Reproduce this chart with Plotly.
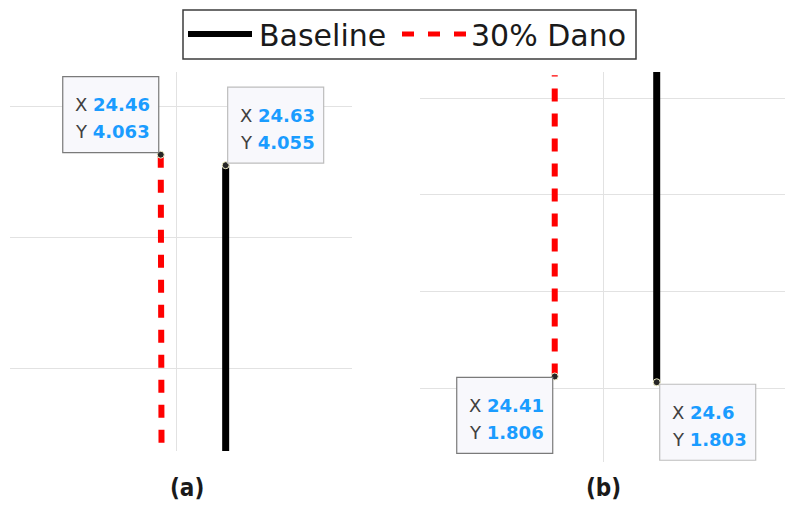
import plotly.graph_objects as go

# ---- data ----
series_names = ["Baseline", "30% Dano"]

# panel (a)
a_base_x = [24.63, 24.63]
a_base_y = [4.055, 3.80]
a_dano_x = [24.46, 24.462]
a_dano_y = [4.063, 3.8437]
a_tips = [(24.46, 4.063, "24.46", "4.063"), (24.63, 4.055, "24.63", "4.055")]

# panel (b)
b_base_x = [24.60, 24.60]
b_base_y = [1.803, 1.97]
b_dano_x = [24.41, 24.41]
b_dano_y = [1.806, 1.962]
b_tips = [(24.41, 1.806, "24.41", "1.806"), (24.60, 1.803, "24.6", "1.803")]

panel_labels = ["(a)", "(b)"]

W, H = 785, 509
BLUE = "#1a9cff"
RED = "#ff0000"
DASH = "13px,12px"

fig = go.Figure()

def add_panel(xa, ya, bx, by, dx, dy, tips):
    fig.add_trace(go.Scatter(x=bx, y=by, mode="lines", xaxis=xa, yaxis=ya,
                             line=dict(color="black", width=7), showlegend=False,
                             hoverinfo="skip"))
    fig.add_trace(go.Scatter(x=dx, y=dy, mode="lines", xaxis=xa, yaxis=ya,
                             line=dict(color=RED, width=6, dash=DASH), showlegend=False,
                             hoverinfo="skip"))
    fig.add_trace(go.Scatter(x=[t[0] for t in tips], y=[t[1] for t in tips], mode="markers",
                             xaxis=xa, yaxis=ya, showlegend=False, hoverinfo="skip",
                             cliponaxis=False,
                             marker=dict(size=7, color="#262626",
                                         line=dict(color="#f2f0c8", width=1))))

add_panel("x", "y", a_base_x, a_base_y, a_dano_x, a_dano_y, a_tips)
add_panel("x2", "y2", b_base_x, b_base_y, b_dano_x, b_dano_y, b_tips)

BW, BH = 96, 76
tip_specs = [
    # (xref, yref, tip, box-left offset, box-top offset (px, up positive), border)
    ("x", "y", a_tips[0], -2 - BW, 2 + BH, "#7a7a7a"),
    ("x", "y", a_tips[1], 2, 2 + BH, "#bdbdbd"),
    ("x2", "y2", b_tips[0], -2 - BW, -1, "#7a7a7a"),
    ("x2", "y2", b_tips[1], 3, -2, "#bdbdbd"),
]
for xr, yr, t, left, top, bc in tip_specs:
    fig.add_shape(type="rect", xref=xr, yref=yr,
                  xsizemode="pixel", ysizemode="pixel",
                  xanchor=t[0], yanchor=t[1],
                  x0=left, x1=left + BW, y0=top - BH, y1=top,
                  line=dict(color=bc, width=1.2), fillcolor="#f8f8fc", layer="above")
    for i, (lab, val) in enumerate([("X", t[2]), ("Y", t[3])]):
        fig.add_annotation(x=t[0], y=t[1], xref=xr, yref=yr, showarrow=False,
                           text="%s <b><span style='color:%s'>%s</span></b>" % (lab, BLUE, val),
                           xanchor="left", yanchor="middle",
                           xshift=left + 10, yshift=top - 28 - 27 * i,
                           font=dict(family="DejaVu Sans", size=18, color="#404040"))

# panel labels
for lbl, cx in zip(panel_labels, [187, 603]):
    fig.add_annotation(x=cx / W, y=1 - 488 / H, xref="paper", yref="paper",
                       text="<b>%s</b>" % lbl, showarrow=False, xanchor="center",
                       yanchor="middle",
                       font=dict(family="DejaVu Sans Condensed, Liberation Sans Narrow, sans-serif",
                                 size=24, color="#1a1a1a"))

# custom legend (box, samples, text)
def px(x):
    return x / W
def py(y):
    return 1 - y / H

fig.add_shape(type="rect", xref="paper", yref="paper", x0=px(183), x1=px(636),
              y0=py(59), y1=py(10), line=dict(color="#3c3c3c", width=1.5),
              fillcolor="white", layer="above")
fig.add_shape(type="line", xref="paper", yref="paper", x0=px(188), x1=px(252),
              y0=py(34), y1=py(34), line=dict(color="black", width=6), layer="above")
fig.add_shape(type="line", xref="paper", yref="paper", x0=px(402), x1=px(466),
              y0=py(34), y1=py(34), line=dict(color=RED, width=5, dash="12px,14px"),
              layer="above")
for name, lx in zip(series_names, [257, 469]):
    fig.add_annotation(x=px(lx), y=py(35), xref="paper", yref="paper", text=name,
                       showarrow=False, xanchor="left", yanchor="middle",
                       font=dict(family="DejaVu Sans", size=30, color="#1a1a1a"))

grid = dict(showgrid=True, gridcolor="#e2e2e2", gridwidth=1, zeroline=False,
            showticklabels=False, ticks="", showline=False, fixedrange=True)

fig.update_layout(
    width=W, height=H, margin=dict(l=0, r=0, t=0, b=0),
    paper_bgcolor="white", plot_bgcolor="white", showlegend=False,
    xaxis=dict(domain=[10 / W, 352 / W], range=[24.0654, 24.9607],
               tick0=24.5, dtick=0.5, **grid),
    yaxis=dict(domain=[1 - 451 / H, 1 - 72 / H], range=[3.8376, 4.1259],
               tick0=4.1, dtick=0.1, **grid),
    xaxis2=dict(domain=[420 / W, 1.0], range=[24.159, 24.839],
                tick0=24.5, dtick=0.5, anchor="y2", **grid),
    yaxis2=dict(domain=[1 - 462 / H, 1 - 72 / H], range=[1.7617, 1.9637],
                tick0=1.8, dtick=0.05, anchor="x2", **grid),
)

fig.write_html("out.html", config={"displayModeBar": False},
               post_script="document.body.style.margin='0';document.body.style.overflow='hidden';")
